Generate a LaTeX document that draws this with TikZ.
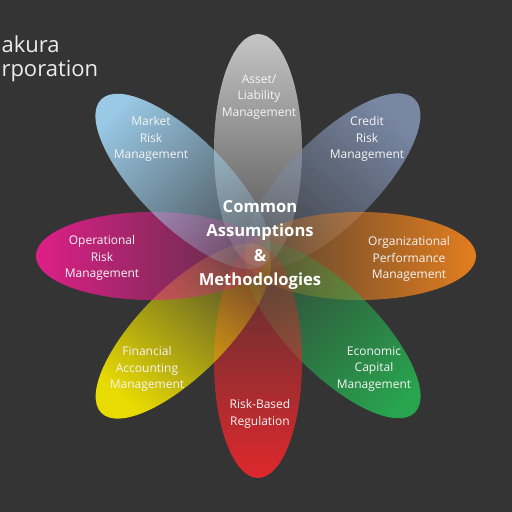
\documentclass[tikz,border=0pt]{standalone}
\usepackage{fontspec}
\setmainfont{Open Sans}
\usepackage{tikz}
\usetikzlibrary{fadings}
\definecolor{bgdark}{RGB}{52,52,52}
\definecolor{petalgray}{RGB}{205,205,205}
\definecolor{petalslate}{RGB}{125,140,170}
\definecolor{petalorange}{RGB}{238,130,30}
\definecolor{petalgreen}{RGB}{40,170,80}
\definecolor{petalred}{RGB}{232,40,45}
\definecolor{petalyellow}{RGB}{242,228,0}
\definecolor{petalmagenta}{RGB}{232,30,140}
\definecolor{petalblue}{RGB}{160,210,240}
\tikzfading[name=petalfade, top color=transparent!5, bottom color=transparent!85]
\tikzset{
    petal/.style={path fading=petalfade, fading angle=#1},   % fading angle = direction - 90
    lbl/.style={text=white!92!gray, align=center, font=\fontsize{12}{16.5}\selectfont},
    hub/.style={text=white, align=center, font=\bfseries\fontsize{16.6}{24.5}\selectfont},
    brand/.style={text=white!85!gray, align=left, font=\fontsize{22}{24}\selectfont}
}

\begin{document}
\begin{tikzpicture}[x=1pt,y=1pt]
\fill[bgdark] (0,0) rectangle (512,512);
\useasboundingbox (0,0) rectangle (512,512);
% petals, flower centre at (258,256)
\begin{scope}[shift={(258,256)}]
    \fill[petalgray, petal=0, rotate=90] (106,0) ellipse (116 and 44);
    \fill[petalslate, petal=-45, rotate=45] (106,0) ellipse (116 and 44);
    \fill[petalorange, petal=-90, rotate=0] (102,0) ellipse (116 and 44);
    \fill[petalgreen, petal=-135, rotate=-45] (106,0) ellipse (116 and 44);
    \fill[petalred, petal=180, rotate=-90] (106,0) ellipse (116 and 44);
    \fill[petalyellow, petal=135, rotate=-135] (106,0) ellipse (116 and 44);
    \fill[petalmagenta, petal=90, rotate=180] (106,0) ellipse (116 and 44);
    \fill[petalblue, petal=45, rotate=135] (106,0) ellipse (116 and 44);
\end{scope}
\begin{scope}[every node/.style={lbl}]
    \node (alm) at (259,415) {Asset/\\Liability\\Management};
    \node (mrm) at (151,373) {Market\\Risk\\Management};
    \node (crm) at (367,373) {Credit\\Risk\\Management};
    \node (orm) at (102,254) {Operational\\Risk\\Management};
    \node (opm) at (409,253) {Organizational\\Performance\\Management};
    \node (fam) at (147,143) {Financial\\Accounting\\Management};
    \node (ecm) at (374,143) {Economic\\Capital\\Management};
    \node (rbr) at (260,98) {Risk-Based\\Regulation};
\end{scope}
\node[hub] (common) at (260,267) {Common\\Assumptions\\\&\\Methodologies};
\node[brand, anchor=base west] (akura) at (-2,459) {akura};
\node[brand, anchor=base west] (rporation) at (-2,435) {rporation};
\end{tikzpicture}
\end{document}
